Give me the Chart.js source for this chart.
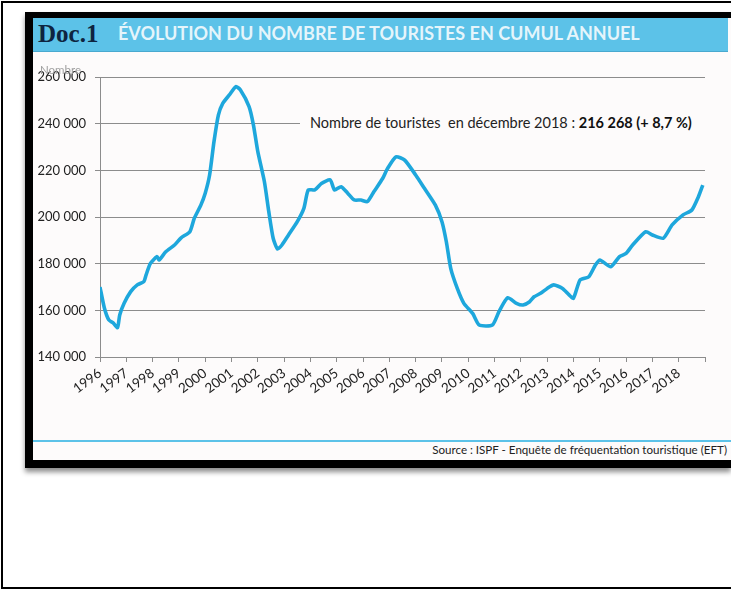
<!DOCTYPE html>
<html>
<head>
<meta charset="utf-8">
<script src="https://cdn.jsdelivr.net/npm/chart.js@4"></script>
<style>
  html, body { margin: 0; padding: 0; background: #fff; }
  body { width: 731px; height: 589px; position: relative; overflow: hidden; font-family: Lato, "Open Sans", sans-serif; }
  .frame { position: absolute; left: 1px; top: 1px; width: 730px; height: 584px; border: 2px solid #000; border-right: none; }
  .doc { position: absolute; left: 25px; top: 12px; width: 706px; height: 456px; background: #000;
         box-shadow: 0 4px 5px rgba(0,0,0,0.45); }
  .sheet { position: absolute; left: 33px; top: 18px; width: 698px; height: 442px; background: #fdfbfb; }
  .bar { position: absolute; left: 33px; top: 18px; width: 695px; height: 33px; background: #5cc2e8;
         border-bottom: 1px solid #49a9cf; }
  .doc1 { position: absolute; left: 38px; top: 19px; font-family: "Liberation Serif", "DejaVu Serif", serif;
          font-weight: bold; font-size: 25px; color: #0e2440; line-height: 30px; }
  .title { position: absolute; left: 118px; top: 22px; font-family: Lato, sans-serif; font-weight: bold;
           font-size: 18px; color: rgba(255,255,255,0.85); line-height: 22px; white-space: nowrap; }
  .ytitle { position: absolute; left: 40px; top: 63px; font-size: 11.5px; color: #a0a0a0; z-index: 2; }
  .note { position: absolute; left: 300px; top: 112px; width: 410px; height: 22px; background: #fdfbfb;
          font-size: 14.5px; color: #222; line-height: 22px; white-space: nowrap; padding-left: 10px; box-sizing: border-box; }
  .note b { color: #111; }
  .srcline { position: absolute; left: 33px; top: 440px; width: 698px; height: 2px; background: #5cc2e8; }
  .src { position: absolute; right: 4px; top: 443px; font-size: 11.6px; color: #222; white-space: nowrap; }
  #wrap { position: absolute; left: 33px; top: 60px; width: 695px; height: 375px; }
</style>
</head>
<body>
<div class="frame"></div>
<div class="doc"></div>
<div class="sheet"></div>
<div class="bar"></div>
<div class="doc1">Doc.1</div>
<div class="title">ÉVOLUTION DU NOMBRE DE TOURISTES EN CUMUL ANNUEL</div>
<div id="wrap"><canvas id="touristChart" width="695" height="375"></canvas></div>
<div class="ytitle">Nombre</div>
<div class="note">Nombre de touristes&nbsp; en décembre 2018 : <b>216 268 (+ 8,7 %)</b></div>
<div class="srcline"></div>
<div class="src">Source : ISPF - Enquête de fréquentation touristique (EFT)</div>

<script>
// months counted from January 1996 (0 = Jan 1996)
const months = [0, 2, 4, 6, 8, 9, 11, 14, 17, 20, 21, 23, 26, 27, 30, 34, 37, 41, 43, 46, 48,
  50, 52, 54, 56, 59, 62, 64, 68, 70, 72, 75, 77, 79, 81, 83, 86, 90, 93, 95, 98,
  101, 105, 107, 110, 113, 116, 119, 122, 125, 129, 131, 135, 139, 144, 148, 153, 156, 158, 160, 163,
  166, 170, 173, 179, 182, 186, 190, 193, 196, 198, 201, 204, 207, 211, 214, 216, 219, 223, 226, 228,
  233, 237, 240, 243, 249, 252, 257, 261, 266, 270, 273, 275];
const tourists = [170000, 161000, 155900, 154600, 152600, 158000, 163000, 168000, 170900, 172300, 175100, 180100, 183000, 181600, 185100, 188000, 191100, 193700, 199400, 205100, 210200,
  218000, 232300, 243700, 248700, 252300, 255900, 254500, 247300, 239400, 228000, 215100, 202300, 190900, 186300, 188000, 192300, 198000, 203700, 211600, 211600,
  214400, 215900, 211600, 213000, 210200, 207300, 207300, 206600, 210900, 216600, 220500, 225800, 224400, 218000, 212300, 205100, 198000, 189400, 178000, 169400,
  163000, 158700, 153700, 153700, 159400, 165400, 163000, 162300, 163700, 165800, 167300, 169400, 170900, 169400, 166600, 165200, 173000, 174400, 179400, 181600,
  178700, 183000, 184400, 188000, 193700, 192300, 190900, 196600, 200900, 203000, 208700, 213700];
const firstYear = 1996;
const lastYear = 2019;
const yTicks = [140000, 160000, 180000, 200000, 220000, 240000, 260000];

const points = months.map((m, i) => ({ x: firstYear + m / 12, y: tourists[i] }));

const ctx = document.getElementById('touristChart').getContext('2d');
const touristChart = new Chart(ctx, {
    type: 'line',
    data: {
        datasets: [{
            data: points,
            borderColor: '#1ea7dc',
            borderWidth: 3.6,
            pointRadius: 0,
            tension: 0.2,
            fill: false
        }]
    },
    options: {
        responsive: false,
        animation: false,
        layout: { padding: { top: 17, right: 23, left: 0, bottom: 0 } },
        plugins: {
            legend: { display: false },
            tooltip: { enabled: false }
        },
        scales: {
            x: {
                type: 'linear',
                min: firstYear,
                max: lastYear,
                afterFit: (scale) => { scale.height = 78; },
                grid: { drawOnChartArea: false, color: '#8c8c8c', tickLength: 5 },
                border: { color: '#8c8c8c' },
                ticks: {
                    stepSize: 1,
                    autoSkip: false,
                    minRotation: 37,
                    maxRotation: 37,
                    padding: 3,
                    color: '#222',
                    font: { family: 'Lato', size: 13.5 },
                    callback: (v) => (v < lastYear ? String(v) : '')
                }
            },
            y: {
                min: yTicks[0],
                max: yTicks[yTicks.length - 1],
                afterFit: (scale) => { scale.width = 67; },
                afterBuildTicks: (scale) => { scale.ticks = yTicks.map(v => ({ value: v })); },
                grid: { color: '#8c8c8c', tickLength: 5 },
                border: { color: '#8c8c8c' },
                ticks: {
                    padding: 9,
                    color: '#222',
                    font: { family: 'Lato', size: 13 },
                    callback: (v) => String(v).replace(/(\d)(?=(\d{3})+$)/g, '$1 ')
                }
            }
        }
    }
});
</script>
</body>
</html>
